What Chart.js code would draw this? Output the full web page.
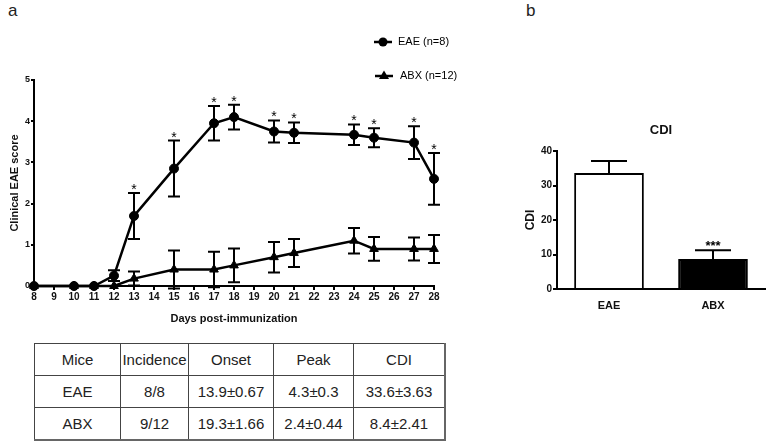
<!DOCTYPE html>
<html>
<head>
<meta charset="utf-8">
<script src="https://cdn.jsdelivr.net/npm/chart.js@4"></script>
<style>
  body { margin: 0; background: #fff; font-family: Arial, "Liberation Sans", sans-serif; }
  #wrap { position: relative; width: 771px; height: 442px; overflow: hidden; }
  #lineBox { position: absolute; left: 0; top: 0; width: 490px; height: 330px; }
  #barBox { position: absolute; left: 500px; top: 100px; width: 271px; height: 220px; }
  .panel { position: absolute; font-size: 17px; color: #222; }
  table { position: absolute; left: 34px; top: 343px; border-collapse: collapse; font-size: 15px; color: #222; }
  td { border: 1px solid #444; text-align: center; height: 31px; padding: 0; }
  table { border-right: 2px solid #666; border-bottom: 2px solid #666; }
</style>
</head>
<body>
<div id="wrap">
  <div class="panel" style="left:8px; top:1px;">a</div>
  <div class="panel" style="left:526px; top:1px;">b</div>
  <div id="lineBox"><canvas id="lineChart"></canvas></div>
  <div id="barBox"><canvas id="barChart"></canvas></div>
  <table>
    <tr><td style="width:85px">Mice</td><td style="width:67px">Incidence</td><td style="width:84px">Onset</td><td style="width:79px">Peak</td><td style="width:90px">CDI</td></tr>
    <tr><td>EAE</td><td>8/8</td><td>13.9±0.67</td><td>4.3±0.3</td><td>33.6±3.63</td></tr>
    <tr><td>ABX</td><td>9/12</td><td>19.3±1.66</td><td>2.4±0.44</td><td>8.4±2.41</td></tr>
  </table>
</div>

<script>
// panel a: clinical score over time
const days = [8, 10, 11, 12, 13, 15, 17, 18, 20, 21, 24, 25, 27, 28];
const eaeScore = [0, 0, 0, 0.25, 1.7, 2.85, 3.95, 4.1, 3.75, 3.72, 3.67, 3.6, 3.48, 2.6];
const eaeErr = [0, 0, 0, 0.13, 0.56, 0.68, 0.42, 0.3, 0.27, 0.25, 0.25, 0.23, 0.4, 0.63];
const abxScore = [0, 0, 0, 0, 0.18, 0.4, 0.4, 0.5, 0.7, 0.8, 1.1, 0.9, 0.9, 0.9];
const abxErr = [0, 0, 0, 0, 0.17, 0.46, 0.43, 0.41, 0.37, 0.34, 0.31, 0.29, 0.28, 0.34];
const starFlags = [0, 0, 0, 0, 1, 1, 1, 1, 1, 1, 1, 1, 1, 1];

// panel b: CDI
const cdiGroups = ["EAE", "ABX"];
const cdiValues = [33.6, 8.7];
const cdiErr = [3.5, 2.5];

const FONT = "Arial, 'Liberation Sans', sans-serif";
Chart.defaults.font.family = FONT;
Chart.defaults.color = "#111";

const errorBars = {
    id: "errorBars",
    afterDatasetsDraw(chart, args, opts) {
        const ctx = chart.ctx;
        const y = chart.scales.y;
        ctx.save();
        ctx.strokeStyle = "#000";
        ctx.lineWidth = 2;
        chart.data.datasets.forEach((ds, di) => {
            const meta = chart.getDatasetMeta(di);
            meta.data.forEach((el, i) => {
                const err = ds.errors[i];
                if (!err) return;
                const x = el.x;
                const v = ds.data[i].y !== undefined ? ds.data[i].y : ds.data[i];
                const top = y.getPixelForValue(v + err);
                const bot = opts.upOnly ? y.getPixelForValue(v) : y.getPixelForValue(v - err);
                const half = opts.cap;
                ctx.beginPath();
                ctx.moveTo(x, top); ctx.lineTo(x, bot);
                ctx.moveTo(x - half, top); ctx.lineTo(x + half, top);
                if (!opts.upOnly) { ctx.moveTo(x - half, bot); ctx.lineTo(x + half, bot); }
                ctx.stroke();
                if (ds.stars && ds.stars[i]) {
                    ctx.fillStyle = "#000";
                    ctx.font = (opts.starFont || "14px") + " " + FONT;
                    ctx.textAlign = "center";
                    ctx.textBaseline = "alphabetic";
                    ctx.fillText(ds.stars[i], x, top + (opts.starOffset || 0));
                }
            });
        });
        ctx.restore();
    }
};

const lineExtras = {
    id: "lineExtras",
    afterDraw(chart) {
        const ctx = chart.ctx;
        ctx.save();
        ctx.fillStyle = "#000";
        ctx.strokeStyle = "#000";
        ctx.lineWidth = 2.5;
        // legend
        ctx.beginPath(); ctx.moveTo(374, 42); ctx.lineTo(392, 42); ctx.stroke();
        ctx.beginPath(); ctx.arc(383, 42, 4.5, 0, Math.PI * 2); ctx.fill();
        ctx.beginPath(); ctx.moveTo(375, 76); ctx.lineTo(393, 76); ctx.stroke();
        ctx.beginPath(); ctx.moveTo(384, 70.5); ctx.lineTo(389, 79); ctx.lineTo(379, 79); ctx.closePath(); ctx.fill();
        ctx.font = "11px " + FONT;
        ctx.textBaseline = "middle";
        ctx.fillText("EAE (n=8)", 398, 42);
        ctx.fillText("ABX (n=12)", 400, 76);
        ctx.restore();
    }
};

new Chart(document.getElementById("lineChart"), {
    type: "line",
    data: {
        datasets: [
            {
                label: "EAE (n=8)",
                data: days.map((d, i) => ({ x: d, y: eaeScore[i] })),
                errors: eaeErr,
                stars: starFlags.map(f => f ? "*" : ""),
                borderColor: "#000", backgroundColor: "#000", borderWidth: 2.5,
                pointStyle: "circle", pointRadius: 4.5, pointBorderWidth: 1, clip: false
            },
            {
                label: "ABX (n=12)",
                data: days.map((d, i) => ({ x: d, y: abxScore[i] })),
                errors: abxErr,
                borderColor: "#000", backgroundColor: "#000", borderWidth: 2.5,
                pointStyle: "triangle", pointRadius: 5, pointBorderWidth: 1, clip: false
            }
        ]
    },
    options: {
        responsive: true, maintainAspectRatio: false, animation: false,
        layout: { padding: { top: 80, right: 56, bottom: 4, left: 8 } },
        plugins: {
            legend: { display: false }, tooltip: { enabled: false },
            errorBars: { cap: 6, starOffset: 1 }
        },
        scales: {
            x: {
                type: "linear", min: 8, max: 28,
                ticks: { stepSize: 1, font: { size: 10, weight: "bold" }, color: "#111", padding: 1, maxRotation: 0 },
                grid: { drawOnChartArea: false, drawTicks: true, tickLength: 4, color: "#000", lineWidth: 2 },
                border: { color: "#000", width: 2 },
                title: { display: true, text: "Days post-immunization", font: { size: 11, weight: "bold" }, color: "#111", padding: { top: 0, bottom: 0 } },
                afterFit(s) { s.height = 40; }
            },
            y: {
                min: 0, max: 5,
                ticks: { stepSize: 1, font: { size: 9, weight: "bold" }, color: "#111", padding: 1 },
                grid: { drawOnChartArea: false, drawTicks: true, tickLength: 3, color: "#000", lineWidth: 2 },
                border: { color: "#000", width: 2 },
                title: { display: true, text: "Clinical EAE score", font: { size: 11, weight: "bold" }, color: "#111", padding: { top: 0, bottom: 0 } },
                afterFit(s) { s.width = 26; }
            }
        }
    },
    plugins: [errorBars, lineExtras]
});

const barExtras = {
    id: "barExtras",
    afterDraw(chart) {
        const ctx = chart.ctx;
        ctx.save();
        ctx.fillStyle = "#111";
        ctx.font = "bold 13px " + FONT;
        ctx.textAlign = "center";
        ctx.textBaseline = "middle";
        ctx.fillText("CDI", (chart.chartArea.left + chart.chartArea.right) / 2, 30);
        ctx.restore();
    }
};

new Chart(document.getElementById("barChart"), {
    type: "bar",
    data: {
        labels: cdiGroups,
        datasets: [{
            data: cdiValues,
            errors: cdiErr,
            stars: ["", "***"],
            backgroundColor: ["#fff", "#000"],
            borderColor: "#000",
            borderWidth: 2,
            borderSkipped: "bottom",
            barPercentage: 0.67,
            categoryPercentage: 1
        }]
    },
    options: {
        responsive: true, maintainAspectRatio: false, animation: false,
        layout: { padding: { top: 51, right: 6, bottom: 5, left: 23 } },
        plugins: {
            legend: { display: false }, tooltip: { enabled: false },
            errorBars: { cap: 18, upOnly: true, starFont: "bold 13px", starOffset: 0 }
        },
        scales: {
            x: {
                ticks: { font: { size: 11, weight: "bold" }, color: "#111", padding: 2 },
                grid: { display: false },
                border: { color: "#000", width: 2 },
                afterFit(s) { s.height = 26; }
            },
            y: {
                min: 0, max: 40,
                ticks: { stepSize: 10, font: { size: 10, weight: "bold" }, color: "#111", padding: 1 },
                grid: { drawOnChartArea: false, drawTicks: true, tickLength: 4, color: "#000", lineWidth: 2 },
                border: { color: "#000", width: 2 },
                title: { display: true, text: "CDI", font: { size: 12, weight: "bold" }, color: "#111", padding: { top: 0, bottom: 0 } },
                afterFit(s) { s.width = 34; }
            }
        }
    },
    plugins: [errorBars, barExtras]
});
</script>
</body>
</html>
